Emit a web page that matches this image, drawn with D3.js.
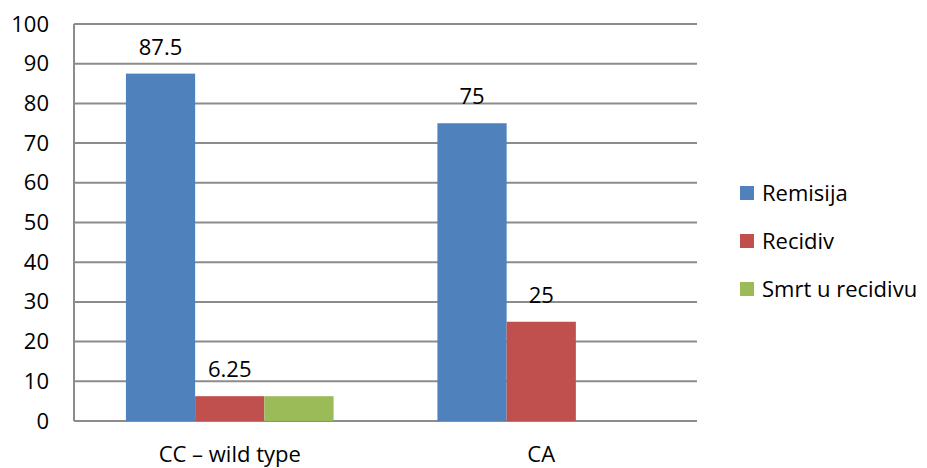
<!DOCTYPE html>
<html>
<head>
<meta charset="utf-8">
<script src="https://cdn.jsdelivr.net/npm/d3@7"></script>
<style>
  body { margin: 0; background: #fff; }
  svg text { font-family: 'Open Sans', sans-serif; font-size: 22px; fill: #000; }
</style>
</head>
<body>
<div class="chart"></div>
<script>
'use strict';

const categories = ['CC \u2013 wild type', 'CA'];
const series = ['Remisija', 'Recidiv', 'Smrt u recidivu'];
const remisija = [87.5, 75];
const recidiv = [6.25, 25];
const smrt = [6.25, 0];
const labelled = ['Remisija', 'Recidiv'];
const yTicks = [0, 10, 20, 30, 40, 50, 60, 70, 80, 90, 100];

const colors = ['#4f81bd', '#c0504d', '#9bbb59'];

const margin = {
  top: 24,
  right: 230,
  bottom: 47,
  left: 74
};

const FULL_WIDTH = 927;
const FULL_HEIGHT = 468;
const WIDTH = FULL_WIDTH - margin.left - margin.right;
const HEIGHT = FULL_HEIGHT - margin.top - margin.bottom;

const values = [remisija, recidiv, smrt];
const data = [];
categories.forEach((c, i) => {
  series.forEach((s, j) => {
    data.push({category: c, series: s, value: values[j][i]});
  });
});

const svg = d3.select('.chart')
  .append('svg')
    .attr('width', FULL_WIDTH)
    .attr('height', FULL_HEIGHT)
  .append('g')
    .attr('transform', 'translate(' + margin.left + ',' + margin.top + ')');

const x0 = d3.scaleBand()
  .domain(categories)
  .range([0, WIDTH]);

// excel gap width 150% -> bars take 3 / 4.5 of each category
const gap = x0.bandwidth() * 1.5 / 4.5;
const x1 = d3.scaleBand()
  .domain(series)
  .range([gap / 2, x0.bandwidth() - gap / 2]);

const y = d3.scaleLinear()
  .domain([0, 100])
  .range([HEIGHT, 0]);

const color = d3.scaleOrdinal()
  .domain(series)
  .range(colors);

// gridlines
svg.append('g')
    .attr('class', 'grid')
  .selectAll('line')
  .data(yTicks)
  .enter()
  .append('line')
    .attr('x1', 0)
    .attr('x2', WIDTH)
    .attr('y1', (d) => y(d))
    .attr('y2', (d) => y(d))
    .attr('stroke', '#8c8c8c')
    .attr('stroke-width', 2);

svg.append('line')
    .attr('x1', 0)
    .attr('x2', 0)
    .attr('y1', 0)
    .attr('y2', HEIGHT)
    .attr('stroke', '#8c8c8c')
    .attr('stroke-width', 2);

const yAxis = svg.append('g')
    .call(d3.axisLeft(y).tickValues(yTicks).tickSize(0).tickPadding(25));
yAxis.select('.domain').remove();
yAxis.attr('font-family', null).attr('font-size', null);

const xAxis = svg.append('g')
    .attr('transform', 'translate(0,' + HEIGHT + ')')
    .call(d3.axisBottom(x0).tickSize(0).tickPadding(25));
xAxis.select('.domain').remove();
xAxis.attr('font-family', null).attr('font-size', null);

svg.selectAll('.bar')
  .data(data)
  .enter()
  .append('rect')
    .attr('class', 'bar')
    .attr('x', (d) => x0(d.category) + x1(d.series))
    .attr('y', (d) => y(d.value))
    .attr('width', x1.bandwidth())
    .attr('height', (d) => HEIGHT - y(d.value))
    .attr('fill', (d) => color(d.series));

svg.selectAll('.bar-label')
  .data(data.filter((d) => labelled.includes(d.series)))
  .enter()
  .append('text')
    .attr('class', 'bar-label')
    .attr('x', (d) => x0(d.category) + x1(d.series) + x1.bandwidth() / 2)
    .attr('y', (d) => y(d.value) - 19)
    .attr('text-anchor', 'middle')
    .text((d) => d.value);

const legend = svg.append('g')
    .attr('transform', 'translate(' + (WIDTH + 43) + ',' + 169 + ')');

const item = legend.selectAll('.legend-item')
  .data(series)
  .enter()
  .append('g')
    .attr('class', 'legend-item')
    .attr('transform', (d, i) => 'translate(0,' + i * 48 + ')');

item.append('rect')
    .attr('x', 0)
    .attr('y', -7)
    .attr('width', 14)
    .attr('height', 14)
    .attr('fill', (d) => color(d));

item.append('text')
    .attr('x', 22)
    .attr('dy', '0.35em')
    .text((d) => d);
</script>
</body>
</html>
